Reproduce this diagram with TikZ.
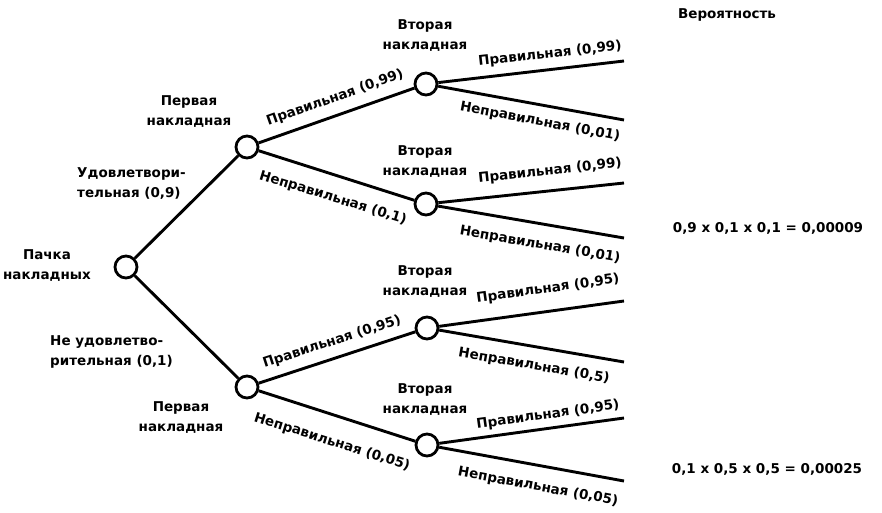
\documentclass[tikz,border=0pt]{standalone}
\usepackage{fontspec}
\setmainfont{DejaVu Sans}
\begin{document}
\begin{tikzpicture}[x=1pt,y=-1pt,
  every node/.style={font=\bfseries\fontsize{13.5}{20}\selectfont, inner sep=0pt},
  chance/.style={circle, draw, line width=2.8pt, minimum size=22pt, fill=white},
  branch/.style={line width=2.9pt},
  lbl/.style={align=center},
  lbll/.style={align=left, anchor=west}]
\useasboundingbox (0,0) rectangle (882,512);
% nodes
\node[chance] (r) at (126,267) {};
\node[chance] (a) at (247,147) {};
\node[chance] (b) at (247,387) {};
\node[chance] (a1) at (426,84) {};
\node[chance] (a2) at (426,204) {};
\node[chance] (b1) at (427,328) {};
\node[chance] (b2) at (427,445) {};
\coordinate (a1u) at (624,61);
\coordinate (a1d) at (624,120);
\coordinate (a2u) at (624,183);
\coordinate (a2d) at (624,238);
\coordinate (b1u) at (624,301);
\coordinate (b1d) at (624,362);
\coordinate (b2u) at (624,418);
\coordinate (b2d) at (624,481);
% connectors
\draw[branch] (r) -- (a);
\draw[branch] (r) -- (b);
\draw[branch] (a) -- (a1);
\draw[branch] (a) -- (a2);
\draw[branch] (b) -- (b1);
\draw[branch] (b) -- (b2);
\draw[branch] (a1) -- (a1u);
\draw[branch] (a1) -- (a1d);
\draw[branch] (a2) -- (a2u);
\draw[branch] (a2) -- (a2d);
\draw[branch] (b1) -- (b1u);
\draw[branch] (b1) -- (b1d);
\draw[branch] (b2) -- (b2u);
\draw[branch] (b2) -- (b2d);
% node labels
\node[lbl] (tr) at (47,266) {Пачка\\накладных};
\node[lbll] (tsat) at (77,184) {Удовлетвори-\\тельная (0,9)};
\node[lbll] (tuns) at (50,352) {Не удовлетво-\\рительная (0,1)};
\node[lbl] (ta) at (189,112) {Первая\\накладная};
\node[lbl] (tb) at (181,418) {Первая\\накладная};
\node[lbl] (ta1) at (425,36) {Вторая\\накладная};
\node[lbl] (ta2) at (425,162) {Вторая\\накладная};
\node[lbl] (tb1) at (425,282) {Вторая\\накладная};
\node[lbl] (tb2) at (425,400) {Вторая\\накладная};
% edge labels, first level
\node[rotate=19.5] (e1) at (335,98) {Правильная (0,99)};
\node[rotate=-17] (e2) at (333,198) {Неправильная (0,1)};
\node[rotate=18] (e3) at (332,342) {Правильная (0,95)};
\node[rotate=-17.5] (e4) at (332,442) {Неправильная (0,05)};
% edge labels, second level
\node[rotate=6.4] (f1) at (550,54) {Правильная (0,99)};
\node[rotate=-10.7] (f2) at (540,122) {Неправильная (0,01)};
\node[rotate=6.1] (f3) at (550,171) {Правильная (0,99)};
\node[rotate=-9.8] (f4) at (540,245) {Неправильная (0,01)};
\node[rotate=7.9] (f5) at (548,289) {Правильная (0,95)};
\node[rotate=-9.9] (f6) at (534,366) {Неправильная (0,5)};
\node[rotate=7.9] (f7) at (548,415) {Правильная (0,95)};
\node[rotate=-10.5] (f8) at (538,487) {Неправильная (0,05)};
% probabilities
\node (hdr) at (727,15) {Вероятность};
\node (p1) at (768,228) {0,9 x 0,1 x 0,1 = 0,00009};
\node (p2) at (767,469) {0,1 x 0,5 x 0,5 = 0,00025};
\end{tikzpicture}
\end{document}
